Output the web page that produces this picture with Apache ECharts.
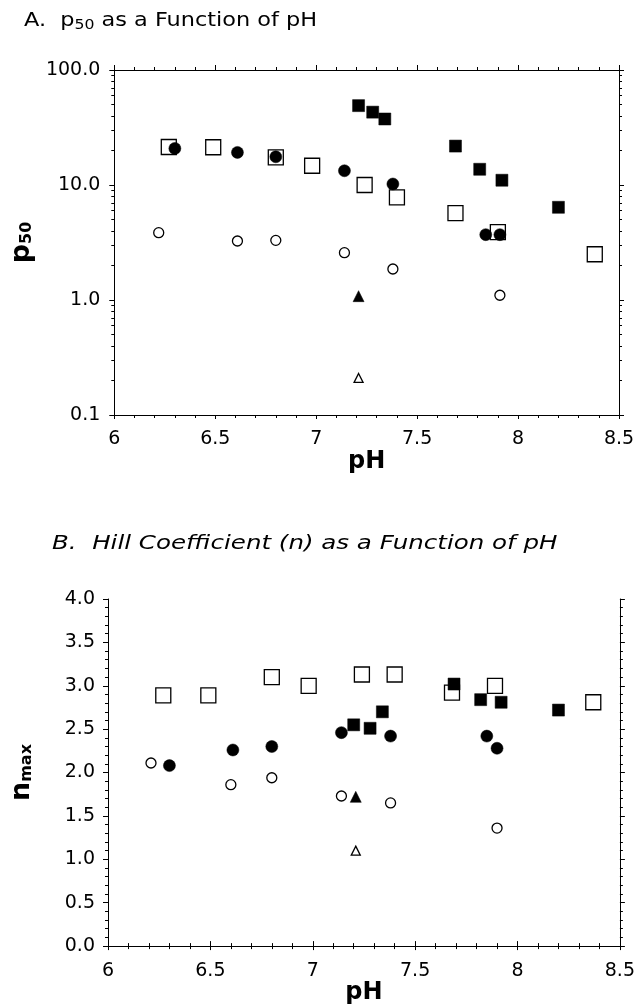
<!DOCTYPE html>
<html>
<head>
<meta charset="utf-8">
<script src="https://cdn.jsdelivr.net/npm/echarts@6/dist/echarts.min.js"></script>
<style>
  html, body { margin: 0; padding: 0; background: #fff; }
  #chart { width: 638px; height: 1006px; }
</style>
</head>
<body>
<div id="chart"></div>
<script>
// Panel A: p50 vs pH (log axis)
const aOpenSquare = [[6.27, 21.4], [6.49, 21.3], [6.80, 17.4], [6.98, 14.7], [7.24, 10.0], [7.40, 7.8], [7.69, 5.7], [7.90, 3.9], [8.38, 2.5]];
const aFilledSquare = [[7.21, 49], [7.28, 43], [7.34, 37.5], [7.69, 21.8], [7.81, 13.7], [7.92, 11.0], [8.20, 6.4]];
const aFilledCircle = [[6.30, 20.8], [6.61, 19.2], [6.80, 17.6], [7.14, 13.3], [7.38, 10.2], [7.84, 3.7], [7.91, 3.7]];
const aOpenCircle = [[6.22, 3.85], [6.61, 3.26], [6.80, 3.3], [7.14, 2.58], [7.38, 1.86], [7.91, 1.10]];
const aFilledTriangle = [[7.21, 1.08]];
const aOpenTriangle = [[7.21, 0.21]];

// Panel B: Hill coefficient vs pH
const bOpenSquare = [[6.27, 2.89], [6.49, 2.89], [6.80, 3.10], [6.98, 3.00], [7.24, 3.13], [7.40, 3.13], [7.68, 2.92], [7.89, 3.00], [8.37, 2.81]];
const bFilledSquare = [[7.20, 2.55], [7.28, 2.51], [7.34, 2.70], [7.69, 3.02], [7.82, 2.84], [7.92, 2.81], [8.20, 2.72]];
const bFilledCircle = [[6.30, 2.08], [6.61, 2.26], [6.80, 2.30], [7.14, 2.46], [7.38, 2.42], [7.85, 2.42], [7.90, 2.28]];
const bOpenCircle = [[6.21, 2.11], [6.60, 1.86], [6.80, 1.94], [7.14, 1.73], [7.38, 1.65], [7.90, 1.36]];
const bFilledTriangle = [[7.21, 1.72]];
const bOpenTriangle = [[7.21, 1.10]];

const xTicks = { min: 6, max: 8.5, interval: 0.5 };
const font = 'DejaVu Sans';
const ink = '#000';

const chart = echarts.init(document.getElementById('chart'));

function xAxes(gridIndex) {
  return [{
    type: 'value', gridIndex, position: 'bottom',
    min: xTicks.min, max: xTicks.max, interval: xTicks.interval,
    name: 'pH', nameLocation: 'middle', nameGap: 33,
    nameTextStyle: { fontFamily: font, fontSize: 24, fontWeight: 'bold', color: ink },
    axisLine: { lineStyle: { color: ink, width: 1 } },
    axisTick: { inside: false, length: 4, lineStyle: { color: ink } },
    minorTick: { show: true, splitNumber: 5, length: 3, lineStyle: { color: ink } },
    axisLabel: { fontFamily: font, fontSize: 19, color: ink, margin: 15 },
    splitLine: { show: false }
  }, {
    type: 'value', gridIndex, position: 'top',
    min: xTicks.min, max: xTicks.max, interval: xTicks.interval,
    axisLine: { lineStyle: { color: ink, width: 1 } },
    axisTick: { inside: false, length: 5, lineStyle: { color: ink } },
    minorTick: { show: true, splitNumber: 5, length: 3, lineStyle: { color: ink } },
    axisLabel: { show: false },
    splitLine: { show: false }
  }];
}

function sideY(gridIndex, extra) {
  return Object.assign({
    gridIndex, position: 'right',
    axisLine: { show: true, lineStyle: { color: ink, width: 1 } },
    axisTick: { show: true, inside: false, length: 5, lineStyle: { color: ink } },
    axisLabel: { show: false },
    splitLine: { show: false }
  }, extra);
}

function mark(name, data, xi, yi, symbol, size, filled) {
  return {
    name, type: 'scatter', xAxisIndex: xi, yAxisIndex: yi, data,
    symbol, symbolSize: size,
    itemStyle: filled
      ? { color: '#000', borderColor: '#000', borderWidth: 0.5, opacity: 1 }
      : { color: '#fff', borderColor: '#000', borderWidth: 1.3, opacity: 1 },
    emphasis: { disabled: true }
  };
}

function panelSeries(xi, yi, s) {
  return [
    mark('open square', s[0], xi, yi, 'rect', 15, false),
    mark('filled square', s[1], xi, yi, 'rect', 12, true),
    mark('filled circle', s[2], xi, yi, 'circle', 12, true),
    mark('open circle', s[3], xi, yi, 'circle', 10, false),
    mark('filled triangle', s[4], xi, yi, 'triangle', 11, true),
    mark('open triangle', s[5], xi, yi, 'triangle', 9, false)
  ];
}

const nameStyle = {
  fontFamily: font, fontSize: 27, fontWeight: 'bold', color: ink,
  rich: { sub: { fontFamily: font, fontSize: 16, fontWeight: 'bold', color: ink, padding: [10, 0, 0, 0] } }
};

const option = {
  animation: false,
  backgroundColor: '#fff',
  // panel titles: the original face is an extended gothic, so stretch horizontally
  graphic: [{
    type: 'text', x: 24, y: 9, scaleX: 1.12,
    style: {
      text: 'A.  p{sub|50} as a Function of pH',
      fontFamily: font, fontSize: 20, fill: ink, verticalAlign: 'top',
      rich: { sub: { fontFamily: font, fontSize: 14, fill: ink, padding: [9, 0, 0, 0] } }
    }
  }, {
    type: 'text', x: 52, y: 535, scaleX: 1.29,
    style: {
      text: 'B.  Hill Coefficient (n) as a Function of pH',
      fontFamily: font, fontSize: 19, fontStyle: 'italic', fill: ink, verticalAlign: 'top'
    }
  }],
  grid: [
    { left: 100, right: 19, top: 70, height: 345 },
    { left: 105, right: 18, top: 599, height: 348 }
  ],
  xAxis: xAxes(0).concat(xAxes(1)),
  yAxis: [{
    type: 'log', logBase: 10, gridIndex: 0, min: 0.1, max: 100,
    name: 'p{sub|50}', nameLocation: 'middle', nameGap: 66, nameRotate: 90,
    nameTextStyle: nameStyle,
    axisLine: { show: true, lineStyle: { color: ink, width: 1 } },
    axisTick: { show: true, inside: false, length: 5, lineStyle: { color: ink } },
    minorTick: { show: true, splitNumber: 9, length: 3, lineStyle: { color: ink } },
    axisLabel: { fontFamily: font, fontSize: 19, color: ink, margin: 14, formatter: v => v.toFixed(1) },
    splitLine: { show: false }
  },
  sideY(0, { type: 'log', logBase: 10, min: 0.1, max: 100, minorTick: { show: true, splitNumber: 9, length: 3, lineStyle: { color: ink } } }),
  {
    type: 'value', gridIndex: 1, min: 0, max: 4, interval: 0.5,
    name: 'n{sub|max}', nameLocation: 'middle', nameGap: 73, nameRotate: 90,
    nameTextStyle: nameStyle,
    axisLine: { show: true, lineStyle: { color: ink, width: 1 } },
    axisTick: { show: true, inside: false, length: 5, lineStyle: { color: ink } },
    minorTick: { show: true, splitNumber: 5, length: 3, lineStyle: { color: ink } },
    axisLabel: { fontFamily: font, fontSize: 19, color: ink, margin: 13, formatter: v => v.toFixed(1) },
    splitLine: { show: false }
  },
  sideY(1, { type: 'value', min: 0, max: 4, interval: 0.5, minorTick: { show: true, splitNumber: 5, length: 3, lineStyle: { color: ink } } })
  ],
  series: panelSeries(0, 0, [aOpenSquare, aFilledSquare, aFilledCircle, aOpenCircle, aFilledTriangle, aOpenTriangle])
    .concat(panelSeries(2, 2, [bOpenSquare, bFilledSquare, bFilledCircle, bOpenCircle, bFilledTriangle, bOpenTriangle]))
};

chart.setOption(option);
</script>
</body>
</html>
